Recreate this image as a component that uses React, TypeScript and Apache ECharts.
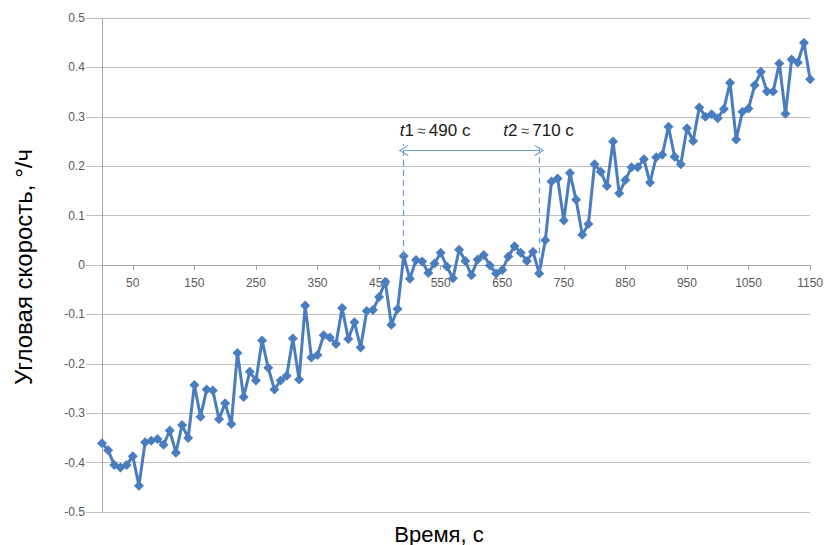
import React, { useEffect, useRef } from 'react';
import * as echarts from 'echarts';

// Time, s
const times = [
  0, 10, 20, 30, 40, 50, 60, 70, 80, 90,
  100, 110, 120, 130, 140, 150, 160, 170, 180, 190,
  200, 210, 220, 230, 240, 250, 260, 270, 280, 290,
  300, 310, 320, 330, 340, 350, 360, 370, 380, 390,
  400, 410, 420, 430, 440, 450, 460, 470, 480, 490,
  500, 510, 520, 530, 540, 550, 560, 570, 580, 590,
  600, 610, 620, 630, 640, 650, 660, 670, 680, 690,
  700, 710, 720, 730, 740, 750, 760, 770, 780, 790,
  800, 810, 820, 830, 840, 850, 860, 870, 880, 890,
  900, 910, 920, 930, 940, 950, 960, 970, 980, 990,
  1000, 1010, 1020, 1030, 1040, 1050, 1060, 1070, 1080, 1090,
  1100, 1110, 1120, 1130, 1140, 1150,
];

// Angular rate, deg/h
const rates = [
  -0.361, -0.375, -0.405, -0.41, -0.405, -0.387, -0.447, -0.359, -0.356, -0.352,
  -0.364, -0.335, -0.38, -0.324, -0.35, -0.243, -0.307, -0.252, -0.254, -0.312,
  -0.28, -0.322, -0.178, -0.267, -0.216, -0.234, -0.153, -0.208, -0.252, -0.234,
  -0.224, -0.149, -0.232, -0.082, -0.187, -0.182, -0.142, -0.147, -0.16, -0.087,
  -0.15, -0.116, -0.167, -0.093, -0.091, -0.065, -0.034, -0.121, -0.089, 0.018,
  -0.028, 0.01, 0.007, -0.016, 0.003, 0.025, -0.003, -0.027, 0.031, 0.008,
  -0.021, 0.011, 0.02, -0.001, -0.017, -0.01, 0.017, 0.038, 0.025, 0.008,
  0.027, -0.017, 0.05, 0.169, 0.175, 0.09, 0.186, 0.132, 0.061, 0.083,
  0.204, 0.189, 0.16, 0.25, 0.145, 0.172, 0.198, 0.198, 0.214, 0.167,
  0.218, 0.223, 0.28, 0.219, 0.204, 0.277, 0.251, 0.319, 0.3, 0.305,
  0.297, 0.316, 0.369, 0.254, 0.31, 0.317, 0.364, 0.391, 0.351, 0.351,
  0.408, 0.306, 0.416, 0.41, 0.45, 0.376,
];

// X-axis tick labels
const xTickLabels = [50, 150, 250, 350, 450, 550, 650, 750, 850, 950, 1050, 1150];

// Annotated moments
const markNames = ['t1', 't2'];
const markTimes = [490, 710];
const arrowLevel = 0.232;
const dashTop = 0.245;
const labelLevel = 0.273;

const Y_MIN = -0.5;
const Y_MAX = 0.5;

const FONT = '"Liberation Sans", Arial, Helvetica, sans-serif';
const LINE = '#4A7DBF';
const ANNO = '#6E9DD6';
const GRID = '#BFBFBF';
const AXIS = '#A6A6A6';

const GRID_TOP = 18;
const GRID_BOTTOM = 33;
const CHART_H = 545;

export default function App() {
  const ref = useRef<HTMLDivElement>(null);

  useEffect(() => {
    if (!ref.current) return;
    const chart = echarts.init(ref.current, null, { renderer: 'svg' });

    const valueAt = (t: number) => rates[times.indexOf(t)];

    const markLineData: any[] = [];
    markTimes.forEach((t) => {
      markLineData.push([
        { coord: [t, valueAt(t)], symbol: 'none' },
        { coord: [t, dashTop], symbol: 'none' },
      ]);
    });
    const chevron = 'path://M0,0 L10,9 L8.8,10 L0,2 L-8.8,10 L-10,9 Z';
    markLineData.push([
      {
        coord: [markTimes[0], arrowLevel],
        symbol: chevron,
        symbolSize: [11, 10],
        lineStyle: { type: 'solid', width: 1.2, color: ANNO },
      },
      {
        coord: [markTimes[1], arrowLevel],
        symbol: chevron,
        symbolSize: [11, 10],
      },
    ]);

    const labelOffsets = [-4, -36];
    const markPointData = markTimes.map((t, i) => ({
      coord: [t, labelLevel],
      symbol: 'circle',
      symbolSize: 0,
      label: {
        show: true,
        position: 'inside',
        align: 'left',
        verticalAlign: 'middle',
        offset: [labelOffsets[i], 0],
        formatter: `{i|t}{n|${markNames[i].slice(1)}} {a|≈} {n|${t} с}`,
        rich: {
          i: { fontStyle: 'italic', fontSize: 17, color: '#1a1a1a', fontFamily: FONT },
          n: { fontSize: 17, color: '#1a1a1a', fontFamily: FONT },
          a: { fontSize: 15, color: '#555', fontFamily: FONT },
        },
      },
    }));

    // vertical position of the y = 0 line, measured from the grid's bottom edge
    const gridH = CHART_H - GRID_TOP - GRID_BOTTOM;
    const zeroOffset = -gridH * ((0 - Y_MIN) / (Y_MAX - Y_MIN));

    const option: any = {
      animation: false,
      backgroundColor: '#fff',
      grid: { left: 102, right: 14, top: GRID_TOP, bottom: GRID_BOTTOM, containLabel: false },
      xAxis: {
        type: 'value',
        min: 0,
        max: 1150,
        position: 'bottom',
        offset: zeroOffset,
        axisLine: {
          show: true,
          onZero: true,
          onZeroAxisIndex: 0,
          lineStyle: { color: AXIS, width: 1 },
        },
        axisTick: {
          show: true,
          customValues: xTickLabels,
          length: 5,
          lineStyle: { color: AXIS },
        },
        axisLabel: {
          customValues: xTickLabels,
          color: '#595959',
          fontSize: 12,
          fontFamily: FONT,
          margin: 12,
          formatter: (v: number) => String(v),
        },
        splitLine: { show: false },
      },
      yAxis: {
        type: 'value',
        min: Y_MIN,
        max: Y_MAX,
        interval: 0.1,
        axisLine: { show: true, onZero: false, lineStyle: { color: AXIS, width: 1 } },
        axisTick: { show: true, length: 16, lineStyle: { color: GRID } },
        axisLabel: {
          color: '#595959',
          fontSize: 12,
          fontFamily: FONT,
          margin: 17,
          formatter: (v: number) => {
            const r = Math.round(v * 10) / 10;
            return r === 0 ? '0' : String(r);
          },
        },
        splitLine: { show: true, lineStyle: { color: GRID, width: 1.2 } },
      },
      series: [
        {
          type: 'line',
          data: times.map((t, i) => [t, rates[i]]),
          symbol: 'diamond',
          symbolSize: 10,
          lineStyle: { color: LINE, width: 3 },
          itemStyle: { color: LINE },
          z: 3,
          markLine: {
            silent: true,
            animation: false,
            label: { show: false },
            lineStyle: { type: [6, 4], color: ANNO, width: 1.2 },
            emphasis: { disabled: true },
            data: markLineData,
          },
          markPoint: {
            silent: true,
            animation: false,
            data: markPointData,
          },
        },
      ],
      graphic: [
        {
          type: 'text',
          x: 23,
          y: 267,
          rotation: Math.PI / 2,
          style: {
            text: 'Угловая скорость, °/ч',
            fontSize: 24,
            fontFamily: FONT,
            fill: '#000',
            align: 'center',
            verticalAlign: 'middle',
          },
        },
        {
          type: 'text',
          x: 439,
          y: 523,
          style: {
            text: 'Время, с',
            fontSize: 22,
            fontFamily: FONT,
            fill: '#000',
            align: 'center',
            verticalAlign: 'top',
          },
        },
      ],
    };

    chart.setOption(option);
    return () => chart.dispose();
  }, []);

  return (
    <div
      ref={ref}
      style={{ position: 'fixed', left: 0, top: 0, width: 826, height: 545 }}
    />
  );
}
